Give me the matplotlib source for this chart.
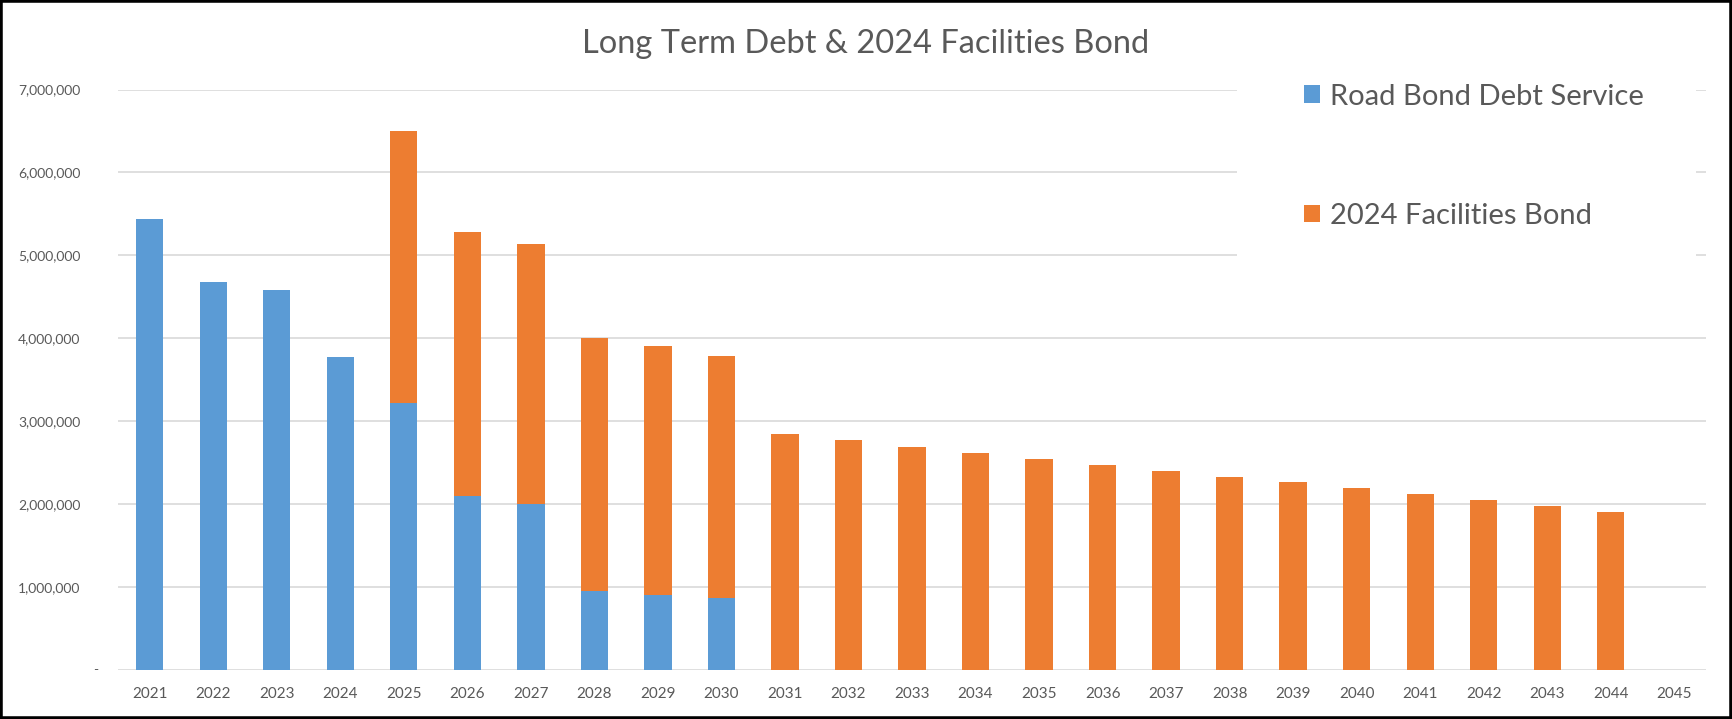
import matplotlib.pyplot as plt
import numpy as np
from matplotlib.patches import Rectangle
from matplotlib.ticker import FuncFormatter

# values
years = [str(y) for y in range(2021, 2046)]
road_bond = [5444000, 4681000, 4585000, 3776000, 3222000, 2096000, 2000000,
             954000, 906000, 870000, 0, 0, 0, 0, 0, 0, 0, 0, 0, 0, 0, 0, 0, 0, 0]
facilities_bond = [0, 0, 0, 0, 3282000, 3186000, 3137000, 3052000, 2998000,
                   2914000, 2842000, 2774000, 2689000, 2617000, 2549000,
                   2477000, 2397000, 2325000, 2265000, 2196000, 2124000,
                   2044000, 1976000, 1904000, 0]
series_names = ["Road Bond Debt Service", "2024 Facilities Bond"]

BLUE = "#5B9BD5"
ORANGE = "#ED7D31"
GRAY = "#595959"
GRID = "#D9D9D9"

plt.rcParams["font.family"] = ["Lato", "DejaVu Sans"]

W, H = 1732, 719
fig = plt.figure(figsize=(W / 100, H / 100), dpi=100)
ax = fig.add_axes([118 / W, 1 - 670 / H, (1706 - 118) / W, (670 - 89.5) / H])

x = np.arange(len(years))
width = 0.43
b1 = ax.bar(x, road_bond, width, color=BLUE, label=series_names[0], zorder=2)
b2 = ax.bar(x, facilities_bond, width, bottom=road_bond, color=ORANGE,
            label=series_names[1], zorder=2)

ax.set_xlim(-0.5, len(years) - 0.5)
ax.set_ylim(0, 7000000)
ax.set_yticks(np.arange(0, 7000001, 1000000))
ax.yaxis.set_major_formatter(FuncFormatter(lambda v, p: "" if v == 0 else f"{int(v):,}"))
ax.set_xticks(x)
ax.set_xticklabels(years)
ax.tick_params(axis="both", length=0, colors=GRAY)
ax.tick_params(axis="y", pad=27, labelsize=10)
ax.tick_params(axis="x", pad=12, labelsize=11)
ax.grid(axis="y", color=GRID, linewidth=1.2, zorder=0)
ax.set_axisbelow(True)
for s in ax.spines.values():
    s.set_visible(False)
# Excel shows zero as a dash
ax.text(-22 / 1588, 0, "-", transform=ax.get_yaxis_transform(),
        ha="center", va="center", fontsize=10, color=GRAY)

# white legend box hiding the gridlines behind it
ax.add_patch(Rectangle((1237 / W, 1 - 296 / H), (1696 - 1237) / W, (296 - 20) / H,
                       transform=fig.transFigure, facecolor="white",
                       edgecolor="none", zorder=3, clip_on=False))
leg = fig.legend(handles=[b1, b2], loc="upper left",
                 bbox_to_anchor=(1289 / W, 1 - 69 / H), frameon=False,
                 fontsize=21, labelcolor=GRAY, handlelength=0.55,
                 handleheight=0.55, handletextpad=0.35, labelspacing=3.2,
                 borderpad=0)
leg.set_zorder(4)

fig.text(0.5, 1 - 44 / H, "Long Term Debt & 2024 Facilities Bond",
         ha="center", va="center", fontsize=23.5, color=GRAY)

# outer black frame
fig.patches.append(Rectangle((0, 0), 1, 1, transform=fig.transFigure,
                             fill=False, edgecolor="black", linewidth=4))

fig.savefig("out.png", dpi=100, facecolor="white")
